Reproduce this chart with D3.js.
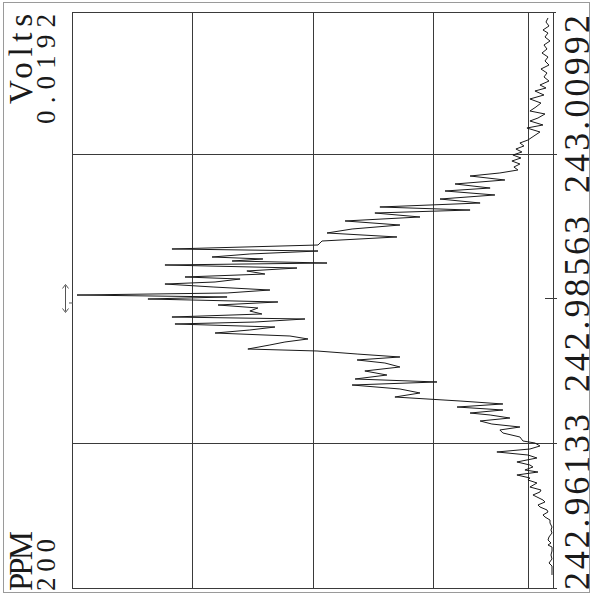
<!DOCTYPE html>
<html>
<head>
<meta charset="utf-8">
<script src="https://cdn.jsdelivr.net/npm/d3@7"></script>
<style>
  html, body { margin: 0; padding: 0; background: #fff; }
  svg { display: block; }
  text { font-family: "Liberation Serif", "DejaVu Serif", serif; fill: #1a1a1a; }
</style>
</head>
<body>
<svg id="chart" width="599" height="598"></svg>
<script>
// ---- data ----
const tickValues = [242.96133, 242.98563, 243.00992];
const tickLabels = ["242.96133", "242.98563", "243.00992"];
const voltsFullScale = 0.0192;
const voltsLabel = ["Volts", "0.0192"];
const ppmLabel = ["PPM", "200"];
const voltsGrid = [0.0048, 0.0096, 0.0144];
const voltsThreshold = [0.0010];
const markerFreq = [242.98563];

const freq = [
  243.03279, 243.03211, 243.03144, 243.03077, 243.03026, 243.02959, 243.02892, 243.02825, 243.02757, 243.02690,
  243.02623, 243.02556, 243.02488, 243.02421, 243.02354, 243.02287, 243.02219, 243.02152, 243.02102, 243.02051,
  243.01984, 243.01917, 243.01849, 243.01782, 243.01715, 243.01665, 243.01597, 243.01547, 243.01480, 243.01429,
  243.01362, 243.01295, 243.01227, 243.01177, 243.01127, 243.01076, 243.01026, 243.00975, 243.00925, 243.00874,
  243.00824, 243.00773, 243.00723,
  243.00673, 243.00622, 243.00555, 243.00488, 243.00420, 243.00370, 243.00303, 243.00235, 243.00168, 243.00101,
  243.00050, 243.00000, 242.99933, 242.99866, 242.99798, 242.99731, 242.99664, 242.99597, 242.99529, 242.99462,
  242.99395, 242.99361, 242.99311, 242.99260, 242.99227, 242.99193, 242.99159, 242.99126, 242.99075, 242.99025,
  242.98974, 242.98924, 242.98890, 242.98840, 242.98806, 242.98756, 242.98705, 242.98655, 242.98621, 242.98588,
  242.98554, 242.98504, 242.98453, 242.98403, 242.98352, 242.98302, 242.98251, 242.98218, 242.98167, 242.98134,
  242.98083, 242.98033, 242.97982, 242.97932, 242.97882, 242.97831, 242.97781, 242.97713, 242.97680, 242.97629,
  242.97579, 242.97529, 242.97478, 242.97411, 242.97344, 242.97276, 242.97209, 242.97159, 242.97108, 242.97041,
  242.96974, 242.96906, 242.96839, 242.96789, 242.96738, 242.96688, 242.96637, 242.96604, 242.96553, 242.96503,
  242.96452, 242.96402, 242.96352, 242.96301, 242.96234, 242.96167, 242.96133, 242.96083, 242.96032, 242.95982,
  242.95931, 242.95881, 242.95814, 242.95763, 242.95730, 242.95679, 242.95645, 242.95595, 242.95545, 242.95511,
  242.95461, 242.95393, 242.95343, 242.95309, 242.95259, 242.95225, 242.95175, 242.95141, 242.95091, 242.95057,
  242.95007, 242.94973, 242.94923, 242.94889, 242.94838, 242.94788, 242.94721, 242.94670, 242.94620, 242.94553,
  242.94502, 242.94452, 242.94418, 242.94384, 242.94317, 242.94250, 242.94183, 242.94115, 242.94065, 242.93998,
  242.93914
];

const volts = [
  0.00020, 0.00028, 0.00016, 0.00040, 0.00020, 0.00032, 0.00012, 0.00036, 0.00024, 0.00044,
  0.00020, 0.00032, 0.00016, 0.00048, 0.00024, 0.00036, 0.00016, 0.00052, 0.00028, 0.00072,
  0.00036, 0.00092, 0.00048, 0.00068, 0.00092, 0.00032, 0.00060, 0.00092, 0.00040, 0.00104,
  0.00052, 0.00076, 0.00100, 0.00132, 0.00116, 0.00148, 0.00124, 0.00160, 0.00128, 0.00164,
  0.00132, 0.00156, 0.00140,
  0.00212, 0.00331, 0.00192, 0.00391, 0.00251, 0.00431, 0.00232, 0.00451, 0.00291, 0.00691,
  0.00331, 0.00711, 0.00531, 0.00830, 0.00611, 0.00802, 0.00902, 0.00623, 0.00922, 0.00938,
  0.01521, 0.00938, 0.01210, 0.01361, 0.01158, 0.01281, 0.00902, 0.01549, 0.01022, 0.01222,
  0.01150, 0.01469, 0.01249, 0.01349, 0.01549, 0.01357, 0.01130, 0.01301, 0.01900, 0.01301,
  0.01617, 0.01098, 0.01337, 0.01178, 0.01210, 0.01162, 0.01521, 0.00990, 0.01190, 0.01509,
  0.01110, 0.01210, 0.01349, 0.01050, 0.00978, 0.01070, 0.01130, 0.01218, 0.00942, 0.00782,
  0.00611, 0.00782, 0.00671, 0.00611, 0.00751, 0.00663, 0.00790, 0.00463, 0.00802, 0.00611,
  0.00531, 0.00631, 0.00371, 0.00200, 0.00383, 0.00200, 0.00331, 0.00251, 0.00172, 0.00291,
  0.00244, 0.00132, 0.00212, 0.00200, 0.00132, 0.00120, 0.00072, 0.00052, 0.00092, 0.00224,
  0.00100, 0.00064, 0.00144, 0.00092, 0.00080, 0.00112, 0.00060, 0.00144, 0.00092, 0.00100,
  0.00064, 0.00092, 0.00048, 0.00052, 0.00080, 0.00064, 0.00040, 0.00032, 0.00060, 0.00052,
  0.00024, 0.00020, 0.00040, 0.00032, 0.00012, 0.00012, 0.00004, 0.00008, 0.00004, 0.00016,
  0.00020, 0.00008, 0.00020, 0.00004, 0.00004, 0.00008, 0.00004, 0.00016, 0.00004, 0.00004,
  0.00004
];

// ---- drawing ----
const svg = d3.select("#chart");
const W = 599, H = 598;
const frame = { left: 72, right: 553, top: 12, bottom: 588 };

// intensity runs right (0) to left (full scale); frequency runs bottom to top
const x = d3.scaleLinear().domain([0, voltsFullScale]).range([frame.right, frame.left]);
const y = d3.scaleLinear().domain([tickValues[0], tickValues[2]]).range([443, 154]);

svg.append("rect").attr("width", W).attr("height", H).attr("fill", "#fff");

// outer page border
svg.append("rect")
  .attr("x", 3.5).attr("y", 2.5).attr("width", 586).attr("height", 590)
  .attr("fill", "none").attr("stroke", "#9a9a9a").attr("stroke-width", 1);

const gridColor = "#3a3a3a";

// plot frame
const g = svg.append("g").attr("stroke", gridColor).attr("stroke-width", 1).attr("fill", "none");
g.append("line").attr("x1", x(voltsFullScale) + 0.5).attr("x2", x(voltsFullScale) + 0.5)
  .attr("y1", frame.top).attr("y2", frame.bottom);
g.append("line").attr("x1", x(voltsFullScale)).attr("x2", x(0) + 3)
  .attr("y1", frame.top + 0.5).attr("y2", frame.top + 0.5);
g.append("line").attr("x1", x(voltsFullScale)).attr("x2", x(0) + 4)
  .attr("y1", frame.bottom + 0.5).attr("y2", frame.bottom + 0.5);
g.append("line").attr("x1", x(0) + 0.5).attr("x2", x(0) + 0.5)
  .attr("y1", frame.top).attr("y2", frame.bottom);

// vertical grid (intensity)
g.selectAll(".vg").data(voltsGrid.concat(voltsThreshold)).enter().append("line")
  .attr("x1", d => Math.round(x(d)) + 0.5).attr("x2", d => Math.round(x(d)) + 0.5)
  .attr("y1", frame.top).attr("y2", frame.bottom);

// horizontal frequency ticks
g.selectAll(".hg").data(tickValues).enter().append("line")
  .attr("x1", (d, i) => i === 1 ? x(0) - 8 : x(voltsFullScale))
  .attr("x2", x(0) + 4)
  .attr("y1", d => Math.round(y(d)) + 0.5).attr("y2", d => Math.round(y(d)) + 0.5);

// centre marker on the left (double arrow)
const my = y(markerFreq[0]);
const mk = svg.append("g").attr("stroke", "#555").attr("fill", "none").attr("stroke-width", 1);
mk.append("line").attr("x1", 65.5).attr("x2", 65.5).attr("y1", my - 13).attr("y2", my + 13);
mk.append("path").attr("d", `M62.5,${my - 10} L65.5,${my - 14} L68.5,${my - 10}`);
mk.append("path").attr("d", `M62.5,${my + 10} L65.5,${my + 14} L68.5,${my + 10}`);
mk.append("line").attr("x1", 69).attr("x2", 73).attr("y1", my + 4.5).attr("y2", my + 4.5);

// spectrum trace
const data = d3.zip(freq, volts);
const line = d3.line().x(d => x(d[1])).y(d => y(d[0]));
svg.append("path").datum(data)
  .attr("d", line)
  .attr("fill", "none")
  .attr("stroke", "#1a1a1a")
  .attr("stroke-width", 1)
  .attr("stroke-linejoin", "miter");

// rotated text helper (length forces a typewriter-like even spread)
function rtext(tx, ty, str, anchor, size, len) {
  svg.append("text")
    .attr("transform", `translate(${tx},${ty}) rotate(-90)`)
    .attr("text-anchor", anchor)
    .attr("font-size", size)
    .attr("textLength", len)
    .attr("lengthAdjust", "spacing")
    .text(str);
}

// left labels
rtext(32, 14, voltsLabel[0], "end", 33, 90);
rtext(55, 14, voltsLabel[1], "end", 27, 110);
rtext(32, 591, ppmLabel[0], "start", 33, 60);
rtext(55, 591, ppmLabel[1], "start", 27, 52);

// frequency labels on the right
rtext(589, 590, tickLabels[0], "start", 36, 176);
rtext(589, 392, tickLabels[1], "start", 36, 176);
rtext(589, 15, tickLabels[2], "end", 36, 178);
</script>
</body>
</html>
